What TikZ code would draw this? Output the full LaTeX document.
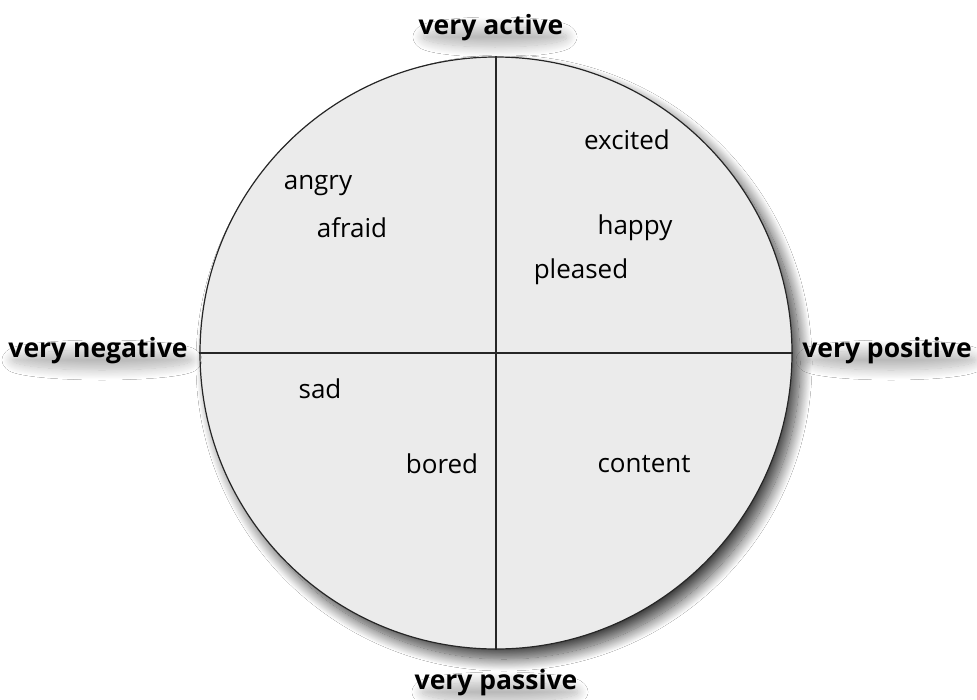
\documentclass[tikz,border=0pt]{standalone}
\usepackage{fontspec}
\setmainfont{Open Sans}
\usetikzlibrary{shadows.blur}
\definecolor{disc}{HTML}{EBEBEB}
\tikzset{
  mood/.style={font=\fontsize{26}{30}\selectfont, text=black, inner sep=0pt},
  axislabel/.style={font=\fontsize{26.5}{30}\selectfont\bfseries, text=black, inner sep=0pt},
  labelshadow/.style={blur shadow={shadow xshift=4pt, shadow yshift=-9pt, shadow blur radius=10pt, shadow opacity=28, shadow blur steps=16}},
  axisline/.style={draw=black!85, line width=1.1pt},
}
\begin{document}
\begin{tikzpicture}[x=1pt,y=-1pt]
\useasboundingbox (0,0) rectangle (977,699);
\fill[white] (0,0) rectangle (977,699);
\node[circle, minimum size=592pt, inner sep=0pt, fill=disc, draw=black!85, line width=1.2pt,
  blur shadow={shadow xshift=8pt, shadow yshift=-10pt, shadow blur radius=12pt, shadow opacity=75, shadow blur steps=20}]
  (disc) at (496,353) {};
\draw[axisline] (disc.north) -- (disc.south);
\draw[axisline] (disc.west) -- (disc.east);
\path[labelshadow] (491,28) ellipse (72 and 10);
\path[labelshadow] (496,683) ellipse (78 and 10);
\path[labelshadow] (98,351) ellipse (90 and 10);
\path[labelshadow] (887,351) ellipse (85 and 10);
\node[axislabel] (act) at (491,28) {very active};
\node[axislabel] (pas) at (496,683) {very passive};
\node[axislabel] (neg) at (98,351) {very negative};
\node[axislabel] (pos) at (887,351) {very positive};
\node[mood] (excited) at (627,140) {excited};
\node[mood] (angry) at (318,186) {angry};
\node[mood] (afraid) at (352,228) {afraid};
\node[mood] (happy) at (635,228) {happy};
\node[mood] (pleased) at (581,272) {pleased};
\node[mood] (sad) at (320,389) {sad};
\node[mood] (bored) at (442,464) {bored};
\node[mood] (content) at (644,464) {content};
\end{tikzpicture}
\end{document}
